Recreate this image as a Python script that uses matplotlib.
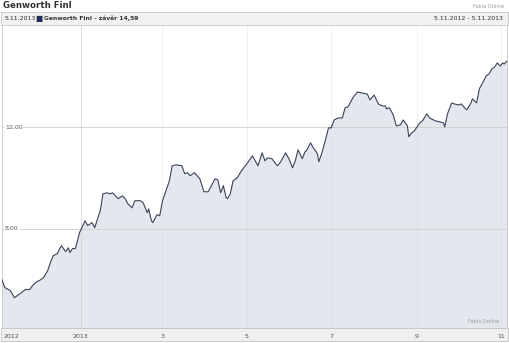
import pandas as pd
import numpy as np
import matplotlib
matplotlib.use('Agg')
import matplotlib.pyplot as plt
from matplotlib.patches import Rectangle

# Genworth Finl close price, 5.11.2012 - 5.11.2013
start = pd.Timestamp('2012-11-05')
end = pd.Timestamp('2013-11-05')
day_offset = [0, 2, 6, 9, 13, 17, 20, 22, 25, 27, 30, 33, 35, 37, 40, 42, 43, 46, 48, 49,
              51, 53, 54, 56, 59, 60, 62, 65, 67, 71, 73, 76, 78, 80, 82, 84, 87, 89, 91, 94,
              96, 100, 102, 105, 106, 108, 109, 112, 114, 116, 119, 121, 123, 126, 130, 132, 134, 136, 139, 143,
              146, 149, 152, 154, 156, 158, 160, 162, 163, 165, 167, 170, 173, 177, 181, 183, 185, 188, 190, 192,
              195, 199, 201, 205, 207, 208, 210, 212, 214, 217, 219, 220, 223, 225, 228, 229, 231, 233, 236, 238,
              240, 243, 246, 248, 250, 254, 257, 260, 264, 266, 269, 272, 275, 277, 278, 280, 282, 283, 285, 288,
              290, 293, 294, 296, 298, 302, 304, 307, 309, 313, 316, 319, 320, 322, 325, 327, 330, 332, 335, 336,
              339, 340, 343, 345, 348, 350, 352, 354, 356, 358, 360, 362, 363, 365]
close = [6.00, 5.69, 5.57, 5.29, 5.45, 5.61, 5.61, 5.76, 5.92, 5.96, 6.08, 6.35, 6.67, 6.94, 7.02, 7.25, 7.33, 7.10, 7.25, 7.06,
         7.22, 7.22, 7.41, 7.84, 8.20, 8.31, 8.12, 8.24, 8.04, 8.71, 9.37, 9.41, 9.37, 9.41, 9.29, 9.18, 9.29, 9.18, 8.98, 8.82,
         9.10, 9.10, 9.02, 8.63, 8.78, 8.31, 8.24, 8.55, 8.51, 9.10, 9.57, 9.88, 10.47, 10.51, 10.47, 10.16, 10.20, 10.08, 10.20, 9.96,
         9.45, 9.45, 9.76, 9.96, 9.92, 9.41, 9.69, 9.22, 9.18, 9.37, 9.88, 10.00, 10.27, 10.55, 10.86, 10.67, 10.47, 10.98, 10.67, 10.78,
         10.75, 10.47, 10.59, 10.98, 10.78, 10.67, 10.39, 10.67, 11.10, 10.75, 11.02, 11.06, 11.37, 11.18, 10.94, 10.63, 10.94, 11.33, 11.96, 11.96,
         12.27, 12.35, 12.35, 12.75, 12.78, 13.18, 13.37, 13.33, 13.29, 13.06, 13.25, 12.90, 12.82, 12.82, 12.71, 12.75, 12.55, 12.43, 12.04, 12.08,
         12.27, 12.04, 11.61, 11.76, 11.84, 12.16, 12.24, 12.51, 12.35, 12.24, 12.20, 12.16, 12.00, 12.51, 12.94, 12.90, 12.86, 12.90, 12.71, 12.67,
         12.94, 13.10, 12.94, 13.49, 13.80, 14.00, 14.08, 14.27, 14.35, 14.51, 14.39, 14.51, 14.47, 14.59]

y_ticks = [8, 12]
y_labels = ['8,00', '12,00']
x_tick_dates = ['2013-01-01', '2013-03-01', '2013-05-01', '2013-07-01', '2013-09-01', '2013-11-01']
x_tick_labels = ['2013', '3', '5', '7', '9', '11']

dates = start + pd.to_timedelta(day_offset, unit='D')

W, H = 509, 343
fig = plt.figure(figsize=(W / 100, H / 100), dpi=100)
fig.patch.set_facecolor('white')

def fx(px):
    return px / W

def fy(py):
    return 1 - py / H

# title and source
fig.text(fx(3), fy(6), 'Genworth Finl', fontsize=6.2, fontweight='bold', color='#333333', ha='left', va='center')
fig.text(fx(504), fy(6), 'Fabia Online', fontsize=3.6, color='#9a9a9a', ha='right', va='center')

# header bar
fig.patches.append(Rectangle((fx(1), fy(25)), fx(507), 13 / H, transform=fig.transFigure,
                             facecolor='#f1f1f1', edgecolor='#c4c4c4', linewidth=0.6, zorder=-1))
fig.text(fx(5), fy(18.5), '5.11.2013', fontsize=4.5, color='#333333', ha='left', va='center')
fig.text(fx(35.5), fy(18.5), '■', fontsize=5.5, color='#1c2b5a', ha='left', va='center')
fig.text(fx(44.5), fy(18.5), 'Genworth Finl - závěr 14,59', fontsize=4.3, fontweight='bold',
         color='#333333', ha='left', va='center')
fig.text(fx(503), fy(18.5), '5.11.2012 - 5.11.2013', fontsize=4.5, color='#333333', ha='right', va='center')

# bottom axis bar
fig.patches.append(Rectangle((fx(1), fy(341)), fx(507), 13 / H, transform=fig.transFigure,
                             facecolor='#efefef', edgecolor='#c4c4c4', linewidth=0.6, zorder=-1))

ax = fig.add_axes([fx(2), fy(328), fx(505), 303 / H])
ax.set_facecolor('white')
ax.set_xlim(start, end)
ax.set_ylim(4.1, 16.0)

ax.fill_between(dates, close, 0, color='#e4e7ed', linewidth=0, zorder=1)
ax.plot(dates, close, color='#3a4357', linewidth=0.8, zorder=3)

# grid
for v in y_ticks:
    ax.axhline(v, color='#cfcfcf', linewidth=0.6, zorder=2)
for i, d in enumerate(x_tick_dates):
    ls = '-' if i == 0 else (0, (1, 1.5))
    ax.axvline(pd.Timestamp(d), color='#d2d2d2', linewidth=0.6, linestyle=ls, zorder=2)

for v, lab in zip(y_ticks, y_labels):
    ax.text(0.006, v, lab, transform=ax.get_yaxis_transform(), fontsize=4.5, color='#555555',
            ha='left', va='center', zorder=4,
            bbox=dict(facecolor='white', edgecolor='none', pad=0.6))

# x labels inside the bottom bar
xt = ax.get_xaxis_transform()
ax.text(0.002, -0.027, '2012', transform=ax.transAxes, fontsize=4.5, color='#555555',
        ha='left', va='center', clip_on=False)
for d, lab in zip(x_tick_dates, x_tick_labels):
    ax.text(pd.Timestamp(d), -0.027, lab, transform=xt, fontsize=4.5, color='#555555',
            ha='center', va='center', clip_on=False)

ax.text(0.985, 0.02, 'Fabia Online', transform=ax.transAxes, fontsize=3.6, color='#9a9a9a',
        ha='right', va='center', zorder=4)

ax.set_xticks([])
ax.set_yticks([])
for s in ax.spines.values():
    s.set_color('#c8c8c8')
    s.set_linewidth(0.6)

fig.savefig('out.png', dpi=100)
